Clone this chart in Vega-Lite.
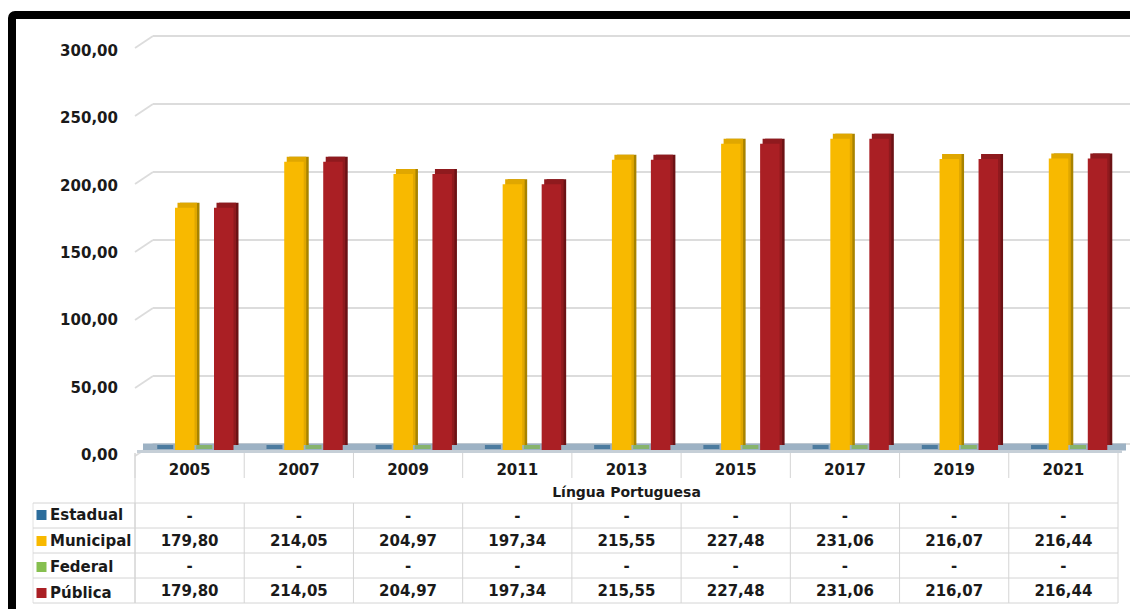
{
  "$schema": "https://vega.github.io/schema/vega-lite/v6.json",
  "autosize": {"type": "none"},
  "padding": {"left": 12, "top": 15, "right": -40, "bottom": -26},
  "width": 1158,
  "height": 620,
  "background": "white",
  "config": {
    "view": {"stroke": "#000000", "strokeWidth": 8, "fill": "white", "cornerRadius": 3},
    "font": "DejaVu Sans"
  },
  "datasets": {
    "dados": [
      {"ano": "2005", "rede": "Estadual", "valor": 0, "rotulo": "-"},
      {"ano": "2005", "rede": "Municipal", "valor": 179.80, "rotulo": "179,80"},
      {"ano": "2005", "rede": "Federal", "valor": 0, "rotulo": "-"},
      {"ano": "2005", "rede": "Pública", "valor": 179.80, "rotulo": "179,80"},
      {"ano": "2007", "rede": "Estadual", "valor": 0, "rotulo": "-"},
      {"ano": "2007", "rede": "Municipal", "valor": 214.05, "rotulo": "214,05"},
      {"ano": "2007", "rede": "Federal", "valor": 0, "rotulo": "-"},
      {"ano": "2007", "rede": "Pública", "valor": 214.05, "rotulo": "214,05"},
      {"ano": "2009", "rede": "Estadual", "valor": 0, "rotulo": "-"},
      {"ano": "2009", "rede": "Municipal", "valor": 204.97, "rotulo": "204,97"},
      {"ano": "2009", "rede": "Federal", "valor": 0, "rotulo": "-"},
      {"ano": "2009", "rede": "Pública", "valor": 204.97, "rotulo": "204,97"},
      {"ano": "2011", "rede": "Estadual", "valor": 0, "rotulo": "-"},
      {"ano": "2011", "rede": "Municipal", "valor": 197.34, "rotulo": "197,34"},
      {"ano": "2011", "rede": "Federal", "valor": 0, "rotulo": "-"},
      {"ano": "2011", "rede": "Pública", "valor": 197.34, "rotulo": "197,34"},
      {"ano": "2013", "rede": "Estadual", "valor": 0, "rotulo": "-"},
      {"ano": "2013", "rede": "Municipal", "valor": 215.55, "rotulo": "215,55"},
      {"ano": "2013", "rede": "Federal", "valor": 0, "rotulo": "-"},
      {"ano": "2013", "rede": "Pública", "valor": 215.55, "rotulo": "215,55"},
      {"ano": "2015", "rede": "Estadual", "valor": 0, "rotulo": "-"},
      {"ano": "2015", "rede": "Municipal", "valor": 227.48, "rotulo": "227,48"},
      {"ano": "2015", "rede": "Federal", "valor": 0, "rotulo": "-"},
      {"ano": "2015", "rede": "Pública", "valor": 227.48, "rotulo": "227,48"},
      {"ano": "2017", "rede": "Estadual", "valor": 0, "rotulo": "-"},
      {"ano": "2017", "rede": "Municipal", "valor": 231.06, "rotulo": "231,06"},
      {"ano": "2017", "rede": "Federal", "valor": 0, "rotulo": "-"},
      {"ano": "2017", "rede": "Pública", "valor": 231.06, "rotulo": "231,06"},
      {"ano": "2019", "rede": "Estadual", "valor": 0, "rotulo": "-"},
      {"ano": "2019", "rede": "Municipal", "valor": 216.07, "rotulo": "216,07"},
      {"ano": "2019", "rede": "Federal", "valor": 0, "rotulo": "-"},
      {"ano": "2019", "rede": "Pública", "valor": 216.07, "rotulo": "216,07"},
      {"ano": "2021", "rede": "Estadual", "valor": 0, "rotulo": "-"},
      {"ano": "2021", "rede": "Municipal", "valor": 216.44, "rotulo": "216,44"},
      {"ano": "2021", "rede": "Federal", "valor": 0, "rotulo": "-"},
      {"ano": "2021", "rede": "Pública", "valor": 216.44, "rotulo": "216,44"}
    ],
    "grade": [
      {"v": 0, "rotulo": "0,00"}, {"v": 50, "rotulo": "50,00"}, {"v": 100, "rotulo": "100,00"},
      {"v": 150, "rotulo": "150,00"}, {"v": 200, "rotulo": "200,00"}, {"v": 250, "rotulo": "250,00"},
      {"v": 300, "rotulo": "300,00"}
    ],
    "uma": [{"k": 1}]
  },
  "resolve": {"scale": {"y": "independent"}},
  "layer": [
    {
      "data": {"name": "grade"},
      "layer": [
        {
          "mark": {"type": "rule", "color": "#dcdcdc", "strokeWidth": 1.8, "xOffset": 18, "x2Offset": 40},
          "encoding": {
            "x": {"datum": "2005", "type": "ordinal", "bandPosition": 0, "scale": {"domain": ["2005","2007","2009","2011","2013","2015","2017","2019","2021"], "range": [123, 1106], "paddingInner": 0, "paddingOuter": 0}, "axis": null},
            "x2": {"datum": "2021", "bandPosition": 1},
            "y": {"field": "v", "type": "quantitative", "scale": {"domain": [0, 300], "range": [429, 21], "nice": false, "zero": false}, "axis": null}
          }
        },
        {
          "mark": {"type": "rule", "color": "#dcdcdc", "strokeWidth": 1.8, "yOffset": 12, "x2Offset": 18},
          "encoding": {
            "x": {"datum": "2005", "type": "ordinal", "bandPosition": 0, "axis": null},
            "x2": {"datum": "2005", "bandPosition": 0},
            "y": {"field": "v", "type": "quantitative", "scale": {"domain": [0, 300], "range": [429, 21], "nice": false, "zero": false}, "axis": null},
            "y2": {"field": "v"}
          }
        }
      ]
    },
    {
      "data": {"name": "dados"},
      "resolve": {"scale": {"color": "independent", "xOffset": "independent"}},
      "layer": [
        {
          "data": {"name": "uma"},
          "mark": {"type": "rule", "color": "#9db2c4", "strokeWidth": 7, "yOffset": -3, "xOffset": 8, "x2Offset": 8},
          "encoding": {
            "x": {"datum": "2005", "type": "ordinal", "bandPosition": 0, "axis": null},
            "x2": {"datum": "2021", "bandPosition": 1},
            "y": {"datum": 0, "type": "quantitative", "scale": {"domain": [0, 300], "range": [435, 31], "nice": false}, "axis": null}
          }
        },
        {
          "data": {"name": "uma"},
          "mark": {"type": "rule", "color": "#c6cfd7", "strokeWidth": 3, "yOffset": 1.5, "xOffset": 2, "x2Offset": 4},
          "encoding": {
            "x": {"datum": "2005", "type": "ordinal", "bandPosition": 0, "axis": null},
            "x2": {"datum": "2021", "bandPosition": 1},
            "y": {"datum": 0, "type": "quantitative", "scale": {"domain": [0, 300], "range": [435, 31], "nice": false}, "axis": null}
          }
        },
        {
          "data": {"name": "grade"},
          "mark": {"type": "text", "font": "DejaVu Sans", "fontSize": 15, "fontWeight": "bold", "color": "#1a1a1a", "align": "right", "baseline": "middle", "xOffset": -17, "yOffset": 5},
          "encoding": {
            "x": {"datum": "2005", "type": "ordinal", "bandPosition": 0, "axis": null},
            "y": {"field": "v", "type": "quantitative", "scale": {"domain": [0, 300], "range": [435, 31], "nice": false}, "axis": null},
            "text": {"field": "rotulo"}
          }
        },
        {
          "mark": {"type": "tick", "thickness": 4, "size": 16, "yOffset": -3},
          "encoding": {
            "x": {"field": "ano", "type": "ordinal", "axis": null},
            "xOffset": {"field": "rede", "type": "nominal", "scale": {"domain": ["Estadual", "Municipal", "Federal", "Pública"], "range": [20.5, 98.5], "paddingInner": 0, "paddingOuter": 0}},
            "y": {"datum": 0, "type": "quantitative", "scale": {"domain": [0, 300], "range": [435, 31], "nice": false}, "axis": null},
            "color": {"field": "rede", "type": "nominal", "scale": {"domain": ["Estadual", "Municipal", "Federal", "Pública"], "range": ["#2a6490", "#e0a700", "#7cb347", "#8f1a1e"]}, "legend": null}
          }
        },
        {
          "mark": {"type": "bar", "yOffset": -5},
          "encoding": {
            "x": {"field": "ano", "type": "ordinal", "axis": null},
            "xOffset": {"field": "rede", "type": "nominal", "scale": {"domain": ["Estadual", "Municipal", "Federal", "Pública"], "range": [25.5, 103.5], "paddingInner": 0, "paddingOuter": 0}},
            "y": {"field": "valor", "type": "quantitative", "scale": {"domain": [0, 300], "range": [435, 31], "nice": false}, "axis": null},
            "color": {"field": "rede", "type": "nominal", "scale": {"domain": ["Estadual", "Municipal", "Federal", "Pública"], "range": ["#1a4463", "#a88300", "#527a2d", "#6c1215"]}, "legend": null}
          }
        },
        {
          "mark": {"type": "bar", "yOffset": -5},
          "encoding": {
            "x": {"field": "ano", "type": "ordinal", "axis": null},
            "xOffset": {"field": "rede", "type": "nominal", "scale": {"domain": ["Estadual", "Municipal", "Federal", "Pública"], "range": [23, 101], "paddingInner": 0, "paddingOuter": 0}},
            "y": {"field": "valor", "type": "quantitative", "scale": {"domain": [0, 300], "range": [435, 31], "nice": false}, "axis": null},
            "color": {"field": "rede", "type": "nominal", "scale": {"domain": ["Estadual", "Municipal", "Federal", "Pública"], "range": ["#235a82", "#e0a700", "#6fa13e", "#8f1a1e"]}, "legend": null}
          }
        },
        {
          "mark": {"type": "bar"},
          "encoding": {
            "x": {"field": "ano", "type": "ordinal", "axis": null},
            "xOffset": {"field": "rede", "type": "nominal", "scale": {"domain": ["Estadual", "Municipal", "Federal", "Pública"], "range": [20.5, 98.5], "paddingInner": 0, "paddingOuter": 0}},
            "y": {"field": "valor", "type": "quantitative", "scale": {"domain": [0, 300], "range": [435, 31], "nice": false}, "axis": null},
            "color": {
              "field": "rede", "type": "nominal",
              "scale": {"domain": ["Estadual", "Municipal", "Federal", "Pública"], "range": ["#2c6d9c", "#f8b900", "#86bf4f", "#aa1f24"]},
              "legend": {
                "orient": "none", "legendX": 22, "legendY": 492.5, "title": null, "padding": 0,
                "symbolType": "square", "symbolSize": 100, "symbolStrokeWidth": 0, "symbolOpacity": 1,
                "rowPadding": 10, "labelOffset": 1,
                "labelFont": "DejaVu Sans", "labelFontSize": 15, "labelFontWeight": "bold", "labelColor": "#1a1a1a", "labelLimit": 0
              }
            }
          }
        },
        {
          "transform": [{"filter": "datum.rede === 'Municipal'"}],
          "mark": {"type": "rule", "color": "#d4d4d4", "strokeWidth": 1, "yOffset": 3, "y2Offset": 28},
          "encoding": {
            "x": {"field": "ano", "type": "ordinal", "bandPosition": 0, "axis": null},
            "y": {"datum": 0, "type": "quantitative", "scale": {"domain": [0, 300], "range": [435, 31], "nice": false}, "axis": null},
            "y2": {"datum": 0}
          }
        },
        {
          "transform": [{"filter": "datum.rede === 'Municipal'"}],
          "mark": {"type": "rule", "color": "#d4d4d4", "strokeWidth": 1, "yOffset": 53, "y2Offset": 153},
          "encoding": {
            "x": {"field": "ano", "type": "ordinal", "bandPosition": 0, "axis": null},
            "y": {"datum": 0, "type": "quantitative", "scale": {"domain": [0, 300], "range": [435, 31], "nice": false}, "axis": null},
            "y2": {"datum": 0}
          }
        },
        {
          "data": {"name": "uma"},
          "mark": {"type": "rule", "color": "#d4d4d4", "strokeWidth": 1, "yOffset": 3, "y2Offset": 153},
          "encoding": {
            "x": {"datum": "2005", "type": "ordinal", "bandPosition": 0, "axis": null},
            "y": {"datum": 0, "type": "quantitative", "scale": {"domain": [0, 300], "range": [435, 31], "nice": false}, "axis": null},
            "y2": {"datum": 0}
          }
        },
        {
          "data": {"name": "uma"},
          "mark": {"type": "rule", "color": "#d4d4d4", "strokeWidth": 1, "yOffset": 3, "y2Offset": 153},
          "encoding": {
            "x": {"datum": "2021", "type": "ordinal", "bandPosition": 1, "axis": null},
            "y": {"datum": 0, "type": "quantitative", "scale": {"domain": [0, 300], "range": [435, 31], "nice": false}, "axis": null},
            "y2": {"datum": 0}
          }
        },
        {
          "data": {"name": "uma"},
          "mark": {"type": "rule", "color": "#e2e2e2", "strokeWidth": 1, "xOffset": -102, "yOffset": 53, "y2Offset": 153},
          "encoding": {
            "x": {"datum": "2005", "type": "ordinal", "bandPosition": 0, "axis": null},
            "y": {"datum": 0, "type": "quantitative", "scale": {"domain": [0, 300], "range": [435, 31], "nice": false}, "axis": null},
            "y2": {"datum": 0}
          }
        },
        {
          "transform": [{"filter": "datum.rede === 'Municipal'"}],
          "mark": {"type": "text", "font": "DejaVu Sans", "fontSize": 15, "fontWeight": "bold", "color": "#1a1a1a", "baseline": "middle", "yOffset": 20},
          "encoding": {
            "x": {"field": "ano", "type": "ordinal", "axis": null},
            "y": {"datum": 0, "type": "quantitative", "scale": {"domain": [0, 300], "range": [435, 31], "nice": false}, "axis": null},
            "text": {"field": "ano"}
          }
        },
        {
          "data": {"name": "uma"},
          "mark": {"type": "text", "font": "DejaVu Sans", "fontSize": 14, "fontWeight": "bold", "color": "#1a1a1a", "baseline": "middle", "yOffset": 43},
          "encoding": {
            "x": {"datum": "2013", "type": "ordinal", "axis": null},
            "y": {"datum": 0, "type": "quantitative", "scale": {"domain": [0, 300], "range": [435, 31], "nice": false}, "axis": null},
            "text": {"value": "Língua Portuguesa"}
          }
        }
      ]
    },
    {
      "data": {"name": "dados"},
      "layer": [
        {
          "transform": [{"filter": "datum.ano === '2005'"}],
          "mark": {"type": "rule", "color": "#d4d4d4", "strokeWidth": 1, "xOffset": -102},
          "encoding": {
            "x": {"datum": "2005", "type": "ordinal", "bandPosition": 0, "axis": null},
            "x2": {"datum": "2021", "bandPosition": 1},
            "y": {"field": "rede", "type": "nominal", "bandPosition": 0, "scale": {"domain": ["Estadual", "Municipal", "Federal", "Pública"], "range": [488, 588], "paddingInner": 0, "paddingOuter": 0}, "axis": null}
          }
        },
        {
          "data": {"name": "uma"},
          "mark": {"type": "rule", "color": "#d4d4d4", "strokeWidth": 1, "xOffset": -102},
          "encoding": {
            "x": {"datum": "2005", "type": "ordinal", "bandPosition": 0, "axis": null},
            "x2": {"datum": "2021", "bandPosition": 1},
            "y": {"datum": "Pública", "type": "nominal", "bandPosition": 1, "axis": null}
          }
        },
        {
          "mark": {"type": "text", "font": "DejaVu Sans", "fontSize": 15, "fontWeight": "bold", "color": "#1a1a1a", "baseline": "middle"},
          "encoding": {
            "x": {"field": "ano", "type": "ordinal", "axis": null},
            "y": {"field": "rede", "type": "nominal", "axis": null, "scale": {"domain": ["Estadual", "Municipal", "Federal", "Pública"], "range": [488, 588], "paddingInner": 0, "paddingOuter": 0}},
            "text": {"field": "rotulo"}
          }
        }
      ]
    }
  ]
}
